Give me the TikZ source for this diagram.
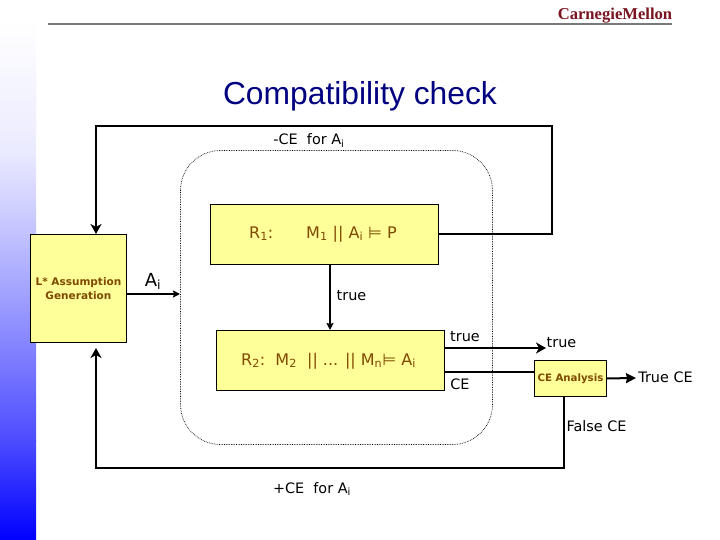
\documentclass[tikz,border=0pt]{standalone}
\usepackage{fontspec}
\setmainfont{DejaVu Sans}
\newfontfamily\ttl{Liberation Sans}
\newfontfamily\logo{Liberation Serif}
\usetikzlibrary{arrows.meta,positioning,calc}
\definecolor{navy}{HTML}{000080}
\definecolor{boxy}{HTML}{FFFF99}
\definecolor{boxt}{HTML}{7F4A00}
\definecolor{logored}{HTML}{7A1420}
\newcommand{\subi}[1]{\textsubscript{#1}}
\tikzset{
  x=1pt,y=-1pt,
  box/.style={draw=black,line width=0.9pt,fill=boxy,inner sep=0pt,anchor=north west,text=boxt,align=center},
  lbl/.style={inner sep=0pt,font=\fontsize{14.4}{17}\selectfont,text=black},
  inbox/.style={inner sep=0pt,font=\fontsize{16}{18}\selectfont,text=boxt,anchor=base west},
  conn/.style={line width=2pt,line join=miter,-{Stealth[length=10pt,width=11pt,inset=3pt]}},
  plain/.style={line width=2pt,line join=miter},
}
\begin{document}
\begin{tikzpicture}
\useasboundingbox (0,0) rectangle (720,540);
\fill[white] (0,0) rectangle (720,540);
\shade[top color=white,bottom color=blue!8!white] (0,20) rectangle (36,150.5);
\shade[top color=blue!8!white,bottom color=blue!24!white] (0,150) rectangle (36,234.5);
\shade[top color=blue!24!white,bottom color=blue!47!white] (0,234) rectangle (36,340.5);
\shade[top color=blue!47!white,bottom color=blue!70!white] (0,340) rectangle (36,440.5);
\shade[top color=blue!70!white,bottom color=blue] (0,440) rectangle (36,540);
\fill[gray!95!black] (48,23) rectangle (672,25.4);
\node[inner sep=0pt,font=\logo\bfseries\fontsize{16.6}{18}\selectfont,text=logored] (logo) at (615,15.5) {CarnegieMellon};
\node[inner sep=0pt,font=\ttl\fontsize{31.8}{36}\selectfont,text=navy] (title) at (360,96.5) {Compatibility check};

\draw[densely dotted,line width=0.7pt,rounded corners=40pt] (180.5,150.5) rectangle (492.5,444.5);

\node[box,minimum width=96pt,minimum height=108pt,font=\bfseries\fontsize{10.5}{14}\selectfont] (lstar) at (30,234) {L* Assumption\\Generation};
\node[box,minimum width=228pt,minimum height=60pt] (r1) at (210,204) {};
\node[box,minimum width=228pt,minimum height=60pt] (r2) at (216,330) {};
\node[box,minimum width=72pt,minimum height=36pt,font=\bfseries\fontsize{10.2}{12}\selectfont] (ce) at (534,360) {CE Analysis};

\node[inbox] at (249,238) {R\subi{1}:};
\node[inbox] at (306,238) {M\subi{1} || A\subi{i} ⊨ P};
\node[inbox] at (241,365) {R\subi{2}:\ \ M\subi{2}\ \ || ... || M\subi{n}⊨ A\subi{i}};

\coordinate (topc) at (552,126);
\coordinate (topr) at (552,234);
\coordinate (topl) at (96,126);
\coordinate (botr) at (564,468);
\coordinate (botl) at (96,468);
\coordinate (t1) at (546,348);
\coordinate (a1) at (180,294);
\coordinate (f1) at (636,378);
\coordinate (lu) at (96,348);

\draw[conn] (r1.east |- topr) -- (topr) -- (topc) -- (topl) -- (lstar.north -| topl);
\draw[conn] (ce.south -| botr) -- (botr) -- (botl) -- (lu);
\draw[conn,-{Stealth[length=7pt,width=7pt,inset=1pt]}] (lstar.east |- a1) -- (a1);
\draw[conn,-{Stealth[length=7pt,width=7pt,inset=1pt]}] (r1.south -| 330,0) -- (r2.north -| 330,0);
\draw[conn] (r2.east |- t1) -- (t1);
\draw[plain] (r2.east |- 0,372) -- (ce.west |- 0,372);
\draw[conn,-{Stealth[length=10pt,width=10pt,inset=1pt]}] (ce.east) -- (f1);

\node[lbl,anchor=base] at (309,145) {-CE\ \ for A\subi{i}};
\node[lbl,anchor=base,font=\fontsize{18}{20}\selectfont] at (153,286) {A\subi{i}};
\node[lbl,anchor=base] at (351.5,300) {true};
\node[lbl,anchor=base] at (465,341) {true};
\node[lbl,anchor=base] at (561.5,347) {true};
\node[lbl,anchor=base] at (460,389.5) {CE};
\node[lbl,anchor=base] at (665.5,382) {True CE};
\node[lbl,anchor=base] at (596.5,431) {False CE};
\node[lbl,anchor=base] at (312,493) {+CE\ \ for A\subi{i}};
\end{tikzpicture}
\end{document}
